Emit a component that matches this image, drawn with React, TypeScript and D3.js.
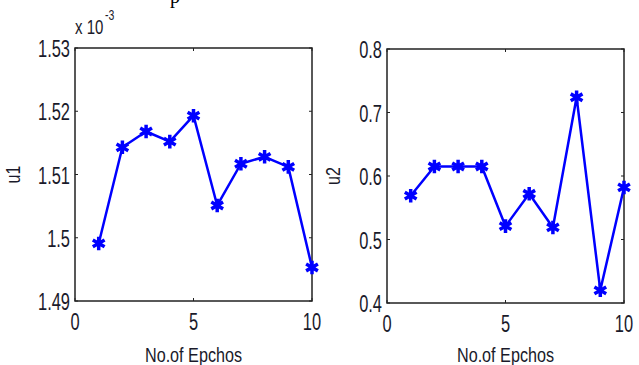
import React, { useEffect, useRef } from 'react';
import * as d3 from 'd3';

// epochs on the x axis
const epochs = [1, 2, 3, 4, 5, 6, 7, 8, 9, 10];
// u1 values, in units of 1e-3
const u1Values = [1.4991, 1.5143, 1.5168, 1.5152, 1.5193, 1.5051, 1.5117, 1.5128, 1.5112, 1.4953];
// u2 values
const u2Values = [0.569, 0.615, 0.615, 0.615, 0.521, 0.572, 0.519, 0.724, 0.42, 0.582];
const xTicks = [0, 5, 10];
const u1Ticks = [1.49, 1.5, 1.51, 1.52, 1.53];
const u2Ticks = [0.4, 0.5, 0.6, 0.7, 0.8];

const App = () => {
  const svgRef = useRef(null);

  useEffect(() => {
    const svg = d3.select(svgRef.current);
    svg.selectAll('*').remove();

    const font = '"Liberation Sans", Arial, sans-serif';

    // helper for the narrow-looking labels
    const label = (g, x, y, txt, anchor, size = 23.5, squash = 0.7, rotate = 0) =>
      g
        .append('text')
        .attr('transform', `translate(${x},${y}) rotate(${rotate}) scale(${squash},1)`)
        .attr('text-anchor', anchor)
        .attr('font-family', font)
        .attr('font-size', size)
        .attr('fill', '#1a1a2a')
        .text(txt);

    // cut-off title glyph at the very top
    svg
      .append('text')
      .attr('x', 170)
      .attr('y', 3)
      .attr('font-family', '"Liberation Serif", serif')
      .attr('font-size', 20)
      .attr('fill', '#000')
      .text('p');

    const panels = [
      { left: 75, right: 312, top: 48, bottom: 301, values: u1Values, domain: [1.49, 1.53], ticks: u1Ticks, name: 'u1', nameOff: 55, exp: true },
      { left: 387, right: 624, top: 49, bottom: 303, values: u2Values, domain: [0.4, 0.8], ticks: u2Ticks, name: 'u2', nameOff: 47, exp: false },
    ];

    panels.forEach((p) => {
      const g = svg.append('g');
      const x = d3.scaleLinear().domain([0, 10]).range([p.left, p.right]);
      const y = d3.scaleLinear().domain(p.domain).range([p.bottom, p.top]);

      // box
      g.append('rect')
        .attr('x', p.left)
        .attr('y', p.top)
        .attr('width', p.right - p.left)
        .attr('height', p.bottom - p.top)
        .attr('fill', 'none')
        .attr('stroke', '#222')
        .attr('stroke-width', 1.5);

      // inward ticks on all four sides
      xTicks.forEach((t) => {
        g.append('line').attr('x1', x(t)).attr('x2', x(t)).attr('y1', p.bottom).attr('y2', p.bottom - 3).attr('stroke', '#222');
        g.append('line').attr('x1', x(t)).attr('x2', x(t)).attr('y1', p.top).attr('y2', p.top + 3).attr('stroke', '#222');
        label(g, x(t), p.bottom + 29, String(t), 'middle');
      });
      p.ticks.forEach((t) => {
        g.append('line').attr('x1', p.left).attr('x2', p.left + 3).attr('y1', y(t)).attr('y2', y(t)).attr('stroke', '#222');
        g.append('line').attr('x1', p.right).attr('x2', p.right - 3).attr('y1', y(t)).attr('y2', y(t)).attr('stroke', '#222');
        label(g, p.left - 5, y(t) + 9, String(+t.toFixed(2)), 'end');
      });

      // axis titles
      label(g, (p.left + p.right) / 2, 362, 'No.of Epchos', 'middle', 19.5, 0.83);
      label(g, p.left - p.nameOff, (p.top + p.bottom) / 2, p.name, 'middle', 20, 0.8, -90);

      if (p.exp) {
        label(g, p.left, 34, 'x 10', 'start', 20, 0.75);
        label(g, p.left + 30, 20, '-3', 'start', 14, 0.75);
      }

      const line = d3
        .line()
        .x((d, i) => x(epochs[i]))
        .y((d) => y(d));

      g.append('path')
        .datum(p.values)
        .attr('d', line)
        .attr('fill', 'none')
        .attr('stroke', '#0000ff')
        .attr('stroke-width', 2.5)
        .attr('stroke-linejoin', 'round');

      const sym = d3.symbol().type(d3.symbolAsterisk).size(130);
      g.selectAll('path.mark')
        .data(p.values)
        .enter()
        .append('path')
        .attr('class', 'mark')
        .attr('d', sym)
        .attr('transform', (d, i) => `translate(${x(epochs[i])},${y(d)})`)
        .attr('fill', 'none')
        .attr('stroke', '#0000ff')
        .attr('stroke-width', 3.5);
    });
  }, []);

  return (
    <svg
      ref={svgRef}
      width={639}
      height={365}
      style={{ position: 'absolute', left: 0, top: 0, background: '#fff' }}
    ></svg>
  );
};

export default App;
